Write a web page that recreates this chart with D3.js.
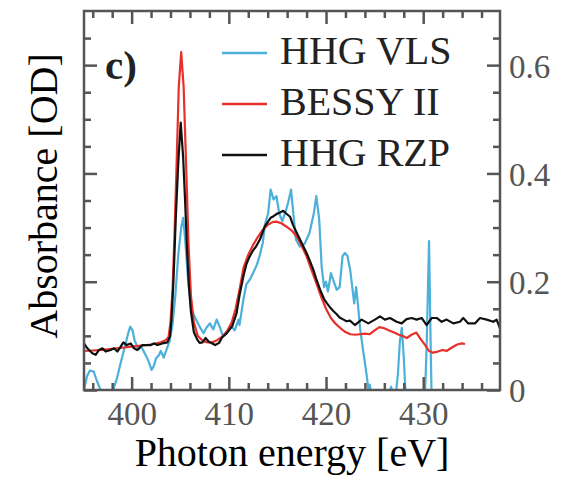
<!DOCTYPE html>
<html>
<head>
<meta charset="utf-8">
<script src="https://cdn.jsdelivr.net/npm/d3@7"></script>
<style>
  body { margin: 0; background: #fff; }
  svg { display: block; }
</style>
</head>
<body>
<div id="chart"></div>
<script>
// series names + colors
var seriesNames = ["HHG VLS", "BESSY II", "HHG RZP"];
var seriesColors = ["#4cb0da", "#e8302a", "#111111"];

// tick labels
var xTicks = [400, 410, 420, 430];
var yTicks = [0, 0.2, 0.4, 0.6];

// HHG VLS (cyan)
var vlsEnergy = [395.1, 395.4, 395.7, 396.1, 396.4, 396.8, 397.2, 397.7, 398.1, 398.5, 398.8, 399.3, 399.65, 399.85,
  400.1, 400.3, 400.7, 401.0, 401.4, 401.7, 402.05, 402.3, 402.5, 402.8, 403.0, 403.3, 403.6, 403.9,
  404.2, 404.5, 404.8, 405.1, 405.3, 405.5, 405.8, 406.1, 406.4, 406.8, 407.0, 407.4, 407.7, 408.05,
  408.4, 408.75, 409.1, 409.4, 409.8, 410.3, 410.6, 411.0, 411.1, 411.5, 411.8, 412.2, 412.5, 412.9,
  413.2, 413.5, 413.7, 414.05, 414.3, 414.6, 414.9, 415.2, 415.5, 415.9, 416.1, 416.4, 416.6, 416.9,
  417.3, 417.8, 418.3, 418.75, 419.0, 419.3, 419.55, 419.8, 420.0, 420.2, 420.5, 420.8, 421.1, 421.4,
  421.7, 421.95, 422.2, 422.5, 422.7, 422.9, 423.1, 423.3, 423.5, 423.8, 424.2, 424.35, 424.5, 424.7,
  425.2, 426.0, 426.5, 426.7, 426.9, 427.2, 427.4, 427.6, 427.8, 428.0, 428.15, 428.4, 429.5, 430.2,
  430.35, 430.6, 430.75, 430.85, 431.0];
var vlsOD = [0.0, 0.025, 0.036, 0.034, 0.018, 0.0, -0.03, -0.03, 0.0, 0.022, 0.045, 0.08, 0.105, 0.117,
  0.11, 0.092, 0.075, 0.08, 0.066, 0.055, 0.037, 0.045, 0.058, 0.064, 0.072, 0.06, 0.075, 0.09,
  0.12, 0.175, 0.25, 0.30, 0.318, 0.28, 0.205, 0.155, 0.138, 0.124, 0.117, 0.105, 0.115, 0.123,
  0.112, 0.13, 0.115, 0.099, 0.108, 0.117, 0.11, 0.13, 0.12, 0.167, 0.195, 0.205, 0.216, 0.232,
  0.25, 0.272, 0.304, 0.327, 0.37, 0.352, 0.358, 0.325, 0.312, 0.333, 0.346, 0.37, 0.333, 0.278,
  0.265, 0.27, 0.29, 0.327, 0.358, 0.315, 0.228, 0.19, 0.2, 0.182, 0.216, 0.2, 0.185, 0.19,
  0.247, 0.253, 0.248, 0.22, 0.19, 0.16, 0.19, 0.155, 0.115, 0.075, 0.025, 0.002, 0.01, -0.01,
  -0.03, -0.03, -0.005, 0.006, -0.01, -0.005, 0.03, 0.09, 0.115, 0.06, 0.005, -0.02, -0.02, 0.0,
  0.08, 0.275, 0.1, 0.0, -0.01];

// BESSY II (red)
var bessyEnergy = [395.1, 396, 397, 398, 399, 400, 401, 402, 403, 403.5, 403.8, 404.0, 404.2, 404.4, 404.6,
  404.85, 405.1, 405.35, 405.6, 405.85, 406.1, 406.4, 406.8, 407.3, 407.8, 408.3, 408.8, 409.3, 409.8,
  410.3, 410.7, 411.1, 411.5, 412, 412.5, 413, 413.5, 414, 414.5, 414.9, 415.4, 415.9, 416.5, 417,
  417.5, 418, 418.5, 419, 419.5, 420, 420.5, 421, 421.5, 422, 422.5, 423, 423.5, 424, 424.5, 425,
  425.5, 426, 426.5, 427, 427.5, 428, 428.3, 428.8, 429.3, 429.7, 430.2, 430.6, 431, 431.5, 432,
  432.4, 433, 433.5, 434, 434.3];
var bessyOD = [0.072, 0.073, 0.074, 0.076, 0.078, 0.080, 0.082, 0.084, 0.088, 0.092, 0.098, 0.125, 0.18, 0.28, 0.40,
  0.56, 0.624, 0.56, 0.42, 0.27, 0.175, 0.125, 0.10, 0.091, 0.088, 0.088, 0.092, 0.098, 0.108,
  0.125, 0.15, 0.185, 0.225, 0.25, 0.268, 0.283, 0.296, 0.305, 0.31, 0.311, 0.308, 0.302, 0.294, 0.283,
  0.266, 0.247, 0.222, 0.198, 0.172, 0.15, 0.133, 0.122, 0.114, 0.107, 0.103, 0.102, 0.103, 0.104, 0.103, 0.11,
  0.116, 0.114, 0.11, 0.106, 0.102, 0.099, 0.096, 0.102, 0.106, 0.095, 0.083, 0.072, 0.069, 0.071, 0.074,
  0.072, 0.079, 0.084, 0.086, 0.085];

// HHG RZP (black)
var rzpEnergy = [395.1, 395.44, 395.96, 396.3, 396.64, 396.99, 397.33, 397.84, 398.19, 398.53, 398.87, 399.15,
  399.49, 399.9, 400.25, 400.59, 401.1, 401.62, 401.96, 402.3, 402.65, 403.16, 403.68, 403.95, 404.1,
  404.3, 404.55, 404.8, 405.05, 405.3, 405.5, 405.7, 405.9, 406.1, 406.4, 406.75, 407.0, 407.3, 407.6,
  407.95, 408.3, 408.6, 409.0, 409.3, 409.8, 410.35, 410.8, 411.1, 411.5, 411.8, 412.1, 412.5, 412.8,
  413.2, 413.5, 413.7, 414.0, 414.3, 414.6, 415.0, 415.3, 415.6, 415.9, 416.3, 416.6, 417.0, 417.3,
  417.6, 418.0, 418.35, 418.7, 419.0, 419.4, 419.8, 420.1, 420.4, 420.8, 421.1, 421.4, 421.8, 422.1,
  422.46, 422.97, 423.66, 424.35, 425.03, 425.55, 426.06, 426.58, 427.26, 427.78, 428.29, 428.81,
  429.32, 429.84, 430.35, 430.87, 431.38, 431.9, 432.41, 433.1, 433.78, 434.12, 434.64, 435.32,
  435.84, 436.53, 437.21, 437.55, 437.9];
var rzpOD = [0.086, 0.077, 0.068, 0.065, 0.074, 0.077, 0.071, 0.074, 0.077, 0.071, 0.080, 0.088,
  0.083, 0.086, 0.077, 0.074, 0.083, 0.083, 0.083, 0.086, 0.083, 0.086, 0.088, 0.099, 0.13,
  0.20, 0.32, 0.42, 0.494, 0.43, 0.35, 0.26, 0.19, 0.145, 0.107, 0.093, 0.087, 0.088, 0.096,
  0.089, 0.086, 0.083, 0.087, 0.097, 0.105, 0.118, 0.142, 0.175, 0.21, 0.232, 0.245, 0.258, 0.265,
  0.278, 0.292, 0.302, 0.31, 0.318, 0.321, 0.326, 0.328, 0.331, 0.326, 0.32, 0.305, 0.29, 0.279,
  0.268, 0.253, 0.238, 0.222, 0.205, 0.185, 0.168, 0.16, 0.153, 0.145, 0.14, 0.134, 0.13, 0.127,
  0.128, 0.120, 0.130, 0.123, 0.130, 0.136, 0.130, 0.133, 0.126, 0.123, 0.131, 0.133,
  0.130, 0.133, 0.120, 0.133, 0.133, 0.126, 0.130, 0.123, 0.126, 0.133, 0.123, 0.123,
  0.133, 0.130, 0.126, 0.130, 0.114];

var W = 565, H = 477;
var box = { left: 84, right: 500, top: 11, bottom: 390 };
var frameColor = "#555";
var serif = "'Liberation Serif', 'DejaVu Serif', serif";

var svg = d3.select("#chart")
  .append("svg")
  .attr("width", W)
  .attr("height", H);

var x = d3.scaleLinear().domain([395.1, 437.9]).range([box.left, box.right]);
var y = d3.scaleLinear().domain([0, 0.7]).range([box.bottom, box.top]);

// clip for the curves
svg.append("defs").append("clipPath").attr("id", "plotclip")
  .append("rect")
  .attr("x", box.left).attr("y", box.top)
  .attr("width", box.right - box.left)
  .attr("height", box.bottom - box.top);

// curves
var allSeries = [
  { e: vlsEnergy, v: vlsOD },
  { e: bessyEnergy, v: bessyOD },
  { e: rzpEnergy, v: rzpOD }
];
var line = d3.line()
  .x(function (d) { return x(d[0]); })
  .y(function (d) { return y(d[1]); });

var curves = svg.append("g").attr("clip-path", "url(#plotclip)");
allSeries.forEach(function (s, i) {
  curves.append("path")
    .datum(d3.zip(s.e, s.v))
    .attr("fill", "none")
    .attr("stroke", seriesColors[i])
    .attr("stroke-width", 2.2)
    .attr("stroke-linejoin", "round")
    .attr("d", line);
});

// axes: ticks inward on all four sides
var xMinor = d3.range(396, 438, 2).filter(function (v) { return xTicks.indexOf(v) < 0; });
var yMinor = d3.range(1, 14).map(function (k) { return +(k * 0.05).toFixed(2); })
  .filter(function (v) { return yTicks.indexOf(v) < 0; });

function addAxis(axisFn, scale, major, minor, pos, labels) {
  var g = svg.append("g").attr("transform", pos);
  g.call(axisFn(scale).tickValues(minor).tickSize(-7).tickFormat(""));
  var g2 = svg.append("g").attr("transform", pos);
  g2.call(axisFn(scale).tickValues(major).tickSize(-13).tickPadding(labels ? 22 : 0)
    .tickFormat(labels ? d3.format("") : ""));
  [g, g2].forEach(function (a) {
    a.select(".domain").remove();
    a.selectAll(".tick line").attr("stroke", frameColor).attr("stroke-width", 2.5);
  });
  return g2;
}

var bottomAxis = addAxis(d3.axisBottom, x, xTicks, xMinor, "translate(0," + box.bottom + ")", true);
bottomAxis.selectAll(".tick text")
  .attr("y", 35)
  .attr("dy", 0)
  .style("font-family", serif)
  .style("font-size", "33px")
  .attr("fill", frameColor);
addAxis(d3.axisTop, x, xTicks, xMinor, "translate(0," + box.top + ")", false);
addAxis(d3.axisLeft, y, yTicks, yMinor, "translate(" + box.left + ",0)", false);
var rightAxis = addAxis(d3.axisRight, y, yTicks, yMinor, "translate(" + box.right + ",0)", true);
rightAxis.selectAll(".tick text")
  .attr("x", 9)
  .attr("dy", "0.36em")
  .text(function (d) { return d === 0 ? "0" : d3.format(".1f")(d); })
  .style("font-family", serif)
  .style("font-size", "33px")
  .attr("fill", frameColor);

// frame
svg.append("rect")
  .attr("x", box.left).attr("y", box.top)
  .attr("width", box.right - box.left)
  .attr("height", box.bottom - box.top)
  .attr("fill", "none")
  .attr("stroke", frameColor)
  .attr("stroke-width", 2.5);

// panel tag
svg.append("text")
  .attr("x", 105).attr("y", 79)
  .style("font-family", serif)
  .style("font-weight", "bold")
  .style("font-size", "41px")
  .attr("fill", "#222")
  .text("c)");

// legend
var legend = svg.append("g");
seriesNames.forEach(function (name, i) {
  var ly = 53 + i * 51;
  legend.append("line")
    .attr("x1", 222).attr("x2", 267)
    .attr("y1", ly).attr("y2", ly)
    .attr("stroke", seriesColors[i])
    .attr("stroke-width", 2.5);
  legend.append("text")
    .attr("x", 280).attr("y", ly + 11)
    .style("font-family", serif)
    .style("font-size", "40px")
    .attr("fill", "#222")
    .text(name);
});

// axis titles
svg.append("text")
  .attr("text-anchor", "middle")
  .attr("x", 292).attr("y", 466)
  .style("font-family", serif)
  .style("font-size", "40px")
  .attr("fill", "#000")
  .text("Photon energy [eV]");

svg.append("text")
  .attr("text-anchor", "middle")
  .attr("transform", "translate(57,196) rotate(-90)")
  .style("font-family", serif)
  .style("font-size", "40px")
  .attr("fill", "#000")
  .text("Absorbance [OD]");
</script>
</body>
</html>
